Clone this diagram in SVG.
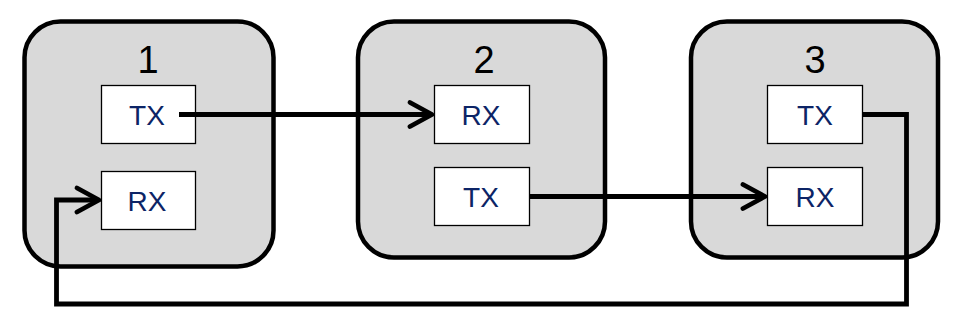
<svg xmlns="http://www.w3.org/2000/svg" width="968" height="331" viewBox="0 0 968 331">
<defs>
<style>
.outer{fill:#d9d9d9;stroke:#000;stroke-width:4.5}
.inner{fill:#fff;stroke:#000;stroke-width:1.3}
.num{font-family:"Liberation Sans",Arial,sans-serif;font-size:38px;fill:#000;text-anchor:middle}
.lbl{font-family:"Liberation Sans",Arial,sans-serif;font-size:28px;fill:#0c2466;text-anchor:middle}
.conn{fill:none;stroke:#000;stroke-width:4.8;stroke-linejoin:miter}
.head{fill:none;stroke:#000;stroke-width:4.8;stroke-linecap:round;stroke-linejoin:round}
</style>
</defs>
<rect width="968" height="331" fill="#fff"/>
<g id="node1">
<rect class="outer" x="24.5" y="21.5" width="249" height="245" rx="36"/>
<text class="num" x="148" y="73">1</text>
</g>
<g id="node1-tx">
<rect class="inner" x="101.5" y="85.5" width="94" height="58"/>
<text class="lbl" x="147" y="125">TX</text>
</g>
<g id="node1-rx">
<rect class="inner" x="101.5" y="171.5" width="94" height="58"/>
<text class="lbl" x="147" y="211">RX</text>
</g>
<g id="node2">
<rect class="outer" x="358" y="21.5" width="247" height="236" rx="36"/>
<text class="num" x="484" y="73">2</text>
</g>
<g id="node2-rx">
<rect class="inner" x="434.5" y="85.5" width="95" height="58"/>
<text class="lbl" x="481" y="125">RX</text>
</g>
<g id="node2-tx">
<rect class="inner" x="434.5" y="167.5" width="95" height="58"/>
<text class="lbl" x="481" y="207">TX</text>
</g>
<g id="node3">
<rect class="outer" x="691" y="21.5" width="247" height="236" rx="36"/>
<text class="num" x="815" y="73">3</text>
</g>
<g id="node3-tx">
<rect class="inner" x="767.5" y="85.5" width="95" height="58"/>
<text class="lbl" x="815" y="125">TX</text>
</g>
<g id="node3-rx">
<rect class="inner" x="767.5" y="167.5" width="95" height="58"/>
<text class="lbl" x="815" y="207">RX</text>
</g>
<g id="connectors">
<path class="conn" d="M179,114.5 H431"/>
<path class="head" d="M410,102.5 L432,114.5 L410,126.5"/>
<path class="conn" d="M529,196.5 H764"/>
<path class="head" d="M743,184.5 L765,196.5 L743,208.5"/>
<path class="conn" d="M862,114.5 H906.5 V304 H56.5 V200 H98"/>
<path class="head" d="M77,188 L99,200 L77,212"/>
</g>
</svg>
